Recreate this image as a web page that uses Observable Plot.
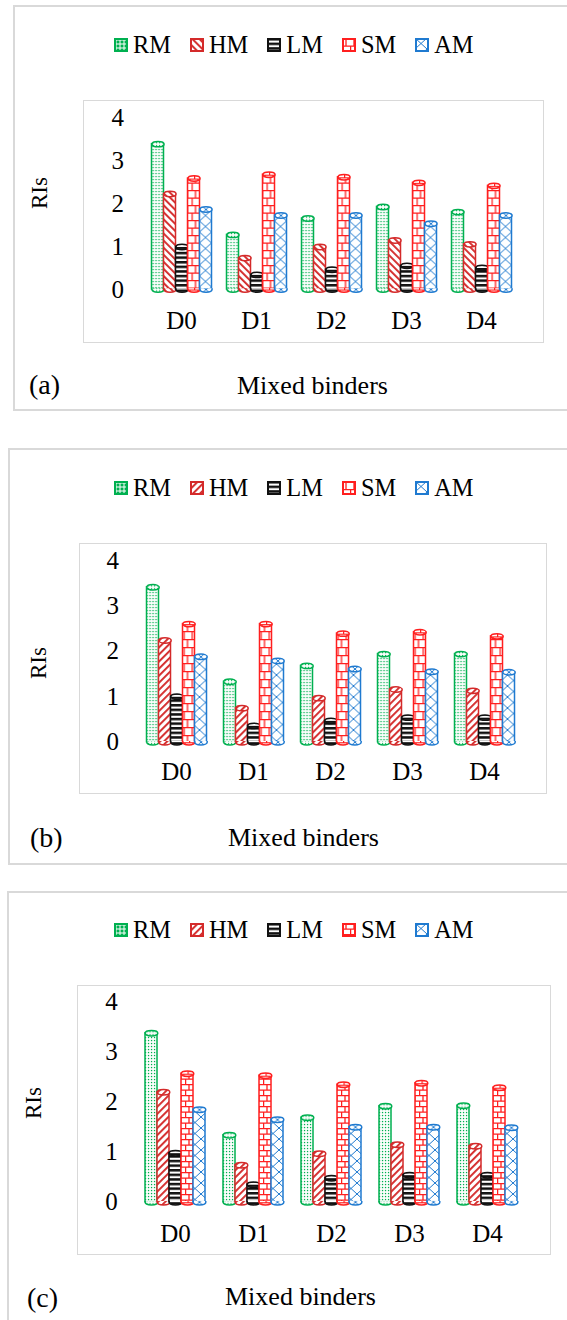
<!DOCTYPE html>
<html>
<head>
<meta charset="utf-8">
<script src="https://cdn.jsdelivr.net/npm/d3@7"></script>
<script src="https://cdn.jsdelivr.net/npm/@observablehq/plot@0.6"></script>
<style>
  html, body { margin: 0; padding: 0; background: #fff; }
  body { position: relative; width: 567px; height: 1320px; overflow: hidden;
         font-family: "Liberation Serif", "Times New Roman", serif; color: #000; }
  .panel { position: absolute; border: 2px solid #d9d9d9; box-sizing: border-box; width: 620px; }
  .box { position: absolute; border: 1.5px solid #d9d9d9; box-sizing: border-box; }
  .legend { position: absolute; height: 28px; display: flex; align-items: center;
            font-size: 24.4px; line-height: 1; white-space: nowrap; }
  .legend .item { display: flex; align-items: center; margin-right: 19px; }
  .legend svg { margin-right: 5px; }
  .ylab { position: absolute; font-size: 23px; line-height: 1; white-space: nowrap;
          transform: translate(-50%, -50%) rotate(-90deg); }
  .tag { position: absolute; font-size: 28px; line-height: 1; transform: translateY(-50%); }
  .xlab { position: absolute; font-size: 26px; line-height: 1; white-space: nowrap; transform: translateY(-50%); }
  .plot { position: absolute; left: 0; }
</style>
</head>
<body>
<script>
// Mixed binders and the five modification series
const binders = ["D0", "D1", "D2", "D3", "D4"];
const seriesNames = ["RM", "HM", "LM", "SM", "AM"];
const yTicks = [0, 1, 2, 3, 4];

// RIs, panel (a)
const rmA = [3.38, 1.27, 1.65, 1.92, 1.80];
const hmA = [2.22, 0.73, 0.99, 1.14, 1.05];
const lmA = [0.99, 0.34, 0.46, 0.55, 0.50];
const smA = [2.58, 2.67, 2.61, 2.48, 2.41];
const amA = [1.86, 1.72, 1.72, 1.53, 1.72];

// RIs, panel (b)
const rmB = [3.41, 1.33, 1.68, 1.94, 1.94];
const hmB = [2.24, 0.75, 0.97, 1.16, 1.13];
const lmB = [1.00, 0.36, 0.47, 0.54, 0.54];
const smB = [2.60, 2.60, 2.39, 2.42, 2.33];
const amB = [1.88, 1.79, 1.61, 1.55, 1.54];

// RIs, panel (c)
const rmC = [3.38, 1.34, 1.69, 1.92, 1.93];
const hmC = [2.20, 0.74, 0.97, 1.15, 1.12];
const lmC = [0.98, 0.35, 0.48, 0.54, 0.54];
const smC = [2.57, 2.53, 2.35, 2.38, 2.29];
const amC = [1.85, 1.65, 1.50, 1.50, 1.49];

// Styling
const seriesColors = {RM: "#00b050", HM: "#d42a2a", LM: "#111111", SM: "#ff1f1f", AM: "#1f7ad0"};

const panels = [
  {id: "a", tag: "(a)", values: [rmA, hmA, lmA, smA, amA], hatch: -45, brick: 7.5,
   frame: {left: 13, top: 5, height: 406}, box: {left: 83, top: 100, width: 461, height: 243},
   plot: {top: 100, height: 243, mt: 17, mb: 54, ml: 143.5, mr: 48.5, tickPad: 27.5, fxPad: 21.5},
   legendY: 45, ylab: [38.5, 192.5], tagPos: [29, 385], xlabPos: [237, 386]},
  {id: "b", tag: "(b)", values: [rmB, hmB, lmB, smB, amB], hatch: 45, brick: 8,
   frame: {left: 8, top: 448, height: 417}, box: {left: 79, top: 543, width: 468, height: 251},
   plot: {top: 543, height: 251, mt: 17, mb: 52.3, ml: 137.5, mr: 44.5, tickPad: 26.5, fxPad: 19.8},
   legendY: 488, ylab: [37.7, 663], tagPos: [30, 838], xlabPos: [228, 838]},
  {id: "c", tag: "(c)", values: [rmC, hmC, lmC, smC, amC], hatch: 45, brick: 5.5,
   frame: {left: 7, top: 891, height: 500}, box: {left: 77, top: 985, width: 474, height: 270},
   plot: {top: 985, height: 270, mt: 16.7, mb: 53.3, ml: 135, mr: 39, tickPad: 26.7, fxPad: 21.8},
   legendY: 930, ylab: [33, 1103], tagPos: [27, 1298], xlabPos: [225, 1297]}
];

// Fill patterns for the cylinders (one set per panel)
function patternDefs(p) {
  const c = seriesColors, h = p.brick;
  return `
  <pattern id="${p.id}-RM" width="3" height="3" patternUnits="userSpaceOnUse">
    <rect width="3" height="3" fill="#fff"/><rect x="0.9" y="0.9" width="1.3" height="1.3" fill="${c.RM}"/>
  </pattern>
  <pattern id="${p.id}-HM" width="5" height="5" patternUnits="userSpaceOnUse" patternTransform="rotate(${p.hatch})">
    <rect width="5" height="5" fill="#fff"/><rect width="1.9" height="5" fill="${c.HM}"/>
  </pattern>
  <pattern id="${p.id}-LM" width="4" height="4.6" patternUnits="userSpaceOnUse">
    <rect width="4" height="4.6" fill="#fff"/><rect width="4" height="2.5" fill="${c.LM}"/>
  </pattern>
  <pattern id="${p.id}-SM" width="8" height="${2 * h}" patternUnits="userSpaceOnUse">
    <rect width="8" height="${2 * h}" fill="#fff"/>
    <path d="M0,0.6H8M0,${h + 0.6}H8M4,0V${h}M0.6,${h}V${2 * h}" stroke="${c.SM}" stroke-width="1.3" fill="none"/>
  </pattern>
  <pattern id="${p.id}-AM" width="12" height="11" patternUnits="userSpaceOnUse">
    <rect width="12" height="11" fill="#fff"/>
    <path d="M0,0L12,11M12,0L0,11" stroke="${c.AM}" stroke-width="1" fill="none"/>
  </pattern>`;
}

// Legend swatch patterns
const legendDefs = `
  <pattern id="lg-RM" width="4" height="4" patternUnits="userSpaceOnUse">
    <rect width="4" height="4" fill="${seriesColors.RM}"/><rect x="1.5" y="0" width="1" height="4" fill="#fff"/><rect x="0" y="1.5" width="4" height="1" fill="#fff"/>
  </pattern>`;

const defsSvg = document.createElementNS("http://www.w3.org/2000/svg", "svg");
defsSvg.setAttribute("width", 0);
defsSvg.setAttribute("height", 0);
defsSvg.style.position = "absolute";
defsSvg.innerHTML = `<defs>${panels.map(patternDefs).join("")}${legendDefs}</defs>`;
document.body.appendChild(defsSvg);

// Ellipse caps for the cylinders
const K = 0.5523;
function topCap(rx, ry) {
  return {draw(ctx) {
    ctx.moveTo(rx, 0);
    ctx.bezierCurveTo(rx, ry * K, rx * K, ry, 0, ry);
    ctx.bezierCurveTo(-rx * K, ry, -rx, ry * K, -rx, 0);
    ctx.bezierCurveTo(-rx, -ry * K, -rx * K, -ry, 0, -ry);
    ctx.bezierCurveTo(rx * K, -ry, rx, -ry * K, rx, 0);
    ctx.closePath();
  }};
}
function bottomCap(rx, ry) {
  return {draw(ctx) {
    ctx.moveTo(-rx, -1.2);
    ctx.lineTo(-rx, 0);
    ctx.bezierCurveTo(-rx, ry * K, -rx * K, ry, 0, ry);
    ctx.bezierCurveTo(rx * K, ry, rx, ry * K, rx, 0);
    ctx.lineTo(rx, -1.2);
  }};
}

function el(cls, style, text) {
  const d = document.createElement("div");
  d.className = cls;
  Object.assign(d.style, style);
  if (text != null) d.textContent = text;
  document.body.appendChild(d);
  return d;
}

function legendSwatch(p, s) {
  const fill = s === "RM" ? "url(#lg-RM)" : `url(#${p.id}-${s})`;
  return `<svg width="14" height="14"><rect x="1" y="1" width="12" height="12" fill="${fill}" stroke="${seriesColors[s]}" stroke-width="2"/></svg>`;
}

for (const p of panels) {
  // outer panel border and inner chart-area border
  el("panel", {left: p.frame.left + "px", top: p.frame.top + "px", height: p.frame.height + "px"});
  el("box", {left: p.box.left + "px", top: p.box.top + "px", width: p.box.width + "px", height: p.box.height + "px"});

  // legend
  const lg = el("legend", {left: "114px", top: (p.legendY - 14) + "px"});
  lg.innerHTML = seriesNames.map(s => `<div class="item">${legendSwatch(p, s)}<span>${s}</span></div>`).join("");

  // data rows for this panel
  const rows = binders.flatMap((b, i) => seriesNames.map((s, j) => ({binder: b, series: s, value: p.values[j][i]})));

  const plotW = 567;
  const step = (plotW - p.plot.ml - p.plot.mr) / 5;
  const rx = step * 0.8 / 10;
  const capTop = topCap(rx, 2.7);
  const capBottom = bottomCap(rx, 2.7);

  const marks = [];
  for (const s of seriesNames) {
    const d = rows.filter(r => r.series === s);
    const fill = `url(#${p.id}-${s})`;
    const stroke = seriesColors[s];
    marks.push(Plot.barY(d, {fx: "binder", x: "series", y: "value", fill, stroke, strokeWidth: 1.5}));
    marks.push(Plot.dot(d, {fx: "binder", x: "series", y: 0, symbol: capBottom, r: 6, fill, stroke, strokeWidth: 1.5}));
    marks.push(Plot.dot(d, {fx: "binder", x: "series", y: "value", symbol: capTop, r: 6, fill, stroke, strokeWidth: 1.5}));
  }

  const chart = Plot.plot({
    width: plotW,
    height: p.plot.height,
    marginTop: p.plot.mt,
    marginBottom: p.plot.mb,
    marginLeft: p.plot.ml,
    marginRight: p.plot.mr,
    style: {fontFamily: "'Liberation Serif', 'Times New Roman', serif", fontSize: "25px", color: "#000", background: "transparent", overflow: "visible"},
    fx: {domain: binders, paddingInner: 0.2, paddingOuter: 0.1, axis: "bottom", tickSize: 0, tickPadding: p.plot.fxPad, label: null},
    x: {domain: seriesNames, padding: 0, axis: null},
    y: {domain: [0, 4], ticks: yTicks, tickSize: 0, tickPadding: p.plot.tickPad, tickFormat: "d", label: null},
    marks
  });
  chart.classList.add("plot");
  chart.style.top = p.plot.top + "px";
  document.body.appendChild(chart);

  // axis title, panel tag and category title
  el("ylab", {left: p.ylab[0] + "px", top: p.ylab[1] + "px"}, "RIs");
  el("tag", {left: p.tagPos[0] + "px", top: p.tagPos[1] + "px"}, p.tag);
  el("xlab", {left: p.xlabPos[0] + "px", top: p.xlabPos[1] + "px"}, "Mixed binders");
}
</script>
</body>
</html>
